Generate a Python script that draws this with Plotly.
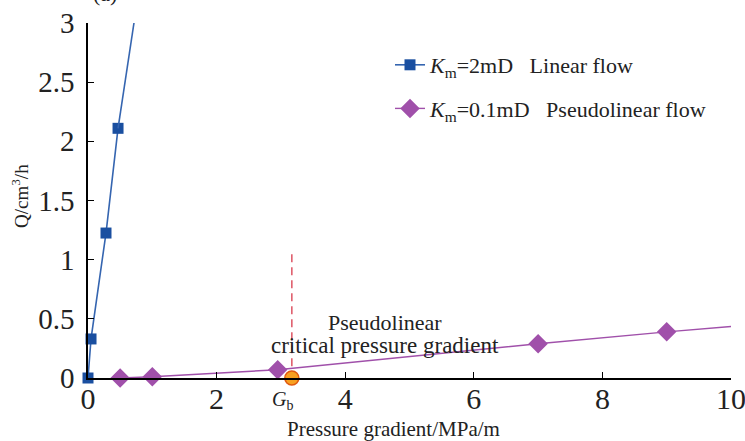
import plotly.graph_objects as go

# ---- data ----
linear_x = [0.0, 0.047, 0.28, 0.467]
linear_y = [0.0, 0.33, 1.225, 2.11]
linear_trend_x = [0.467, 0.715]
linear_trend_y = [2.11, 3.0]

pseudo_x = [0.5, 1.0, 2.95, 7.0, 9.0]
pseudo_y = [0.0, 0.01, 0.07, 0.29, 0.39]
pseudo_trend_x = [9.0, 10.0]
pseudo_trend_y = [0.39, 0.435]

gb_x = [3.17]
gb_y = [0.0]
gb_line_y = [0.1, 1.08]

x_ticks = [0, 2, 4, 6, 8, 10]
y_ticks = [0, 0.5, 1, 1.5, 2, 2.5, 3]

BLUE_LINE = "#3565b0"
BLUE_MARK = "#1a4fa0"
PURPLE = "#a050aa"
FONT = "Liberation Serif, Times New Roman, serif"
TXT = "#222"

W, H = 745, 441
L, R, T, B = 88, 14, 23, 63
PW, PH = W - L - R, H - T - B


def px2paper(px, py):
    return (px - L) / PW, (H - B - py) / PH


fig = go.Figure()

fig.add_trace(go.Scatter(
    x=linear_x, y=linear_y, mode="lines+markers",
    name="<i>K</i><sub>m</sub>=2mD   Linear flow",
    line=dict(color=BLUE_LINE, width=1.6),
    marker=dict(symbol="square", size=11, color=BLUE_MARK),
    cliponaxis=False, legendgroup="a",
))
fig.add_trace(go.Scatter(
    x=linear_trend_x, y=linear_trend_y, mode="lines",
    line=dict(color=BLUE_LINE, width=1.6), showlegend=False, cliponaxis=False,
))
fig.add_trace(go.Scatter(
    x=pseudo_x, y=pseudo_y, mode="lines+markers",
    name="<i>K</i><sub>m</sub>=0.1mD   Pseudolinear flow",
    line=dict(color=PURPLE, width=1.4),
    marker=dict(symbol="diamond", size=15, color=PURPLE),
    cliponaxis=False, legendgroup="b",
))
fig.add_trace(go.Scatter(
    x=pseudo_trend_x, y=pseudo_trend_y, mode="lines",
    line=dict(color=PURPLE, width=1.4), showlegend=False, cliponaxis=False,
))
fig.add_trace(go.Scatter(
    x=[gb_x[0], gb_x[0]], y=gb_line_y, mode="lines",
    line=dict(color="#e0606e", width=1.6, dash="8px,5px"), showlegend=False,
))
fig.add_trace(go.Scatter(
    x=gb_x, y=gb_y, mode="markers",
    marker=dict(symbol="circle", size=14, color="#f7a020",
                line=dict(color="#e05a10", width=1.5)),
    showlegend=False, cliponaxis=False,
))

axis_common = dict(
    showline=True, linecolor="black", linewidth=1.5,
    ticks="inside", ticklen=6, tickwidth=1.3, tickcolor="black",
    showgrid=False, zeroline=False, automargin=False,
    ticklabeloverflow="allow",
)
fig.update_xaxes(range=[0, 10], tickvals=x_ticks, ticklabelstandoff=-7,
                 tickfont=dict(family=FONT, size=30, color=TXT), **axis_common)
fig.update_yaxes(range=[0, 3], tickvals=y_ticks, ticklabelstandoff=6,
                 tickfont=dict(family=FONT, size=29, color=TXT), **axis_common)

xt = px2paper(393, 429)
yt = px2paper(20, 196)
pn1 = px2paper(385, 322)
pn2 = px2paper(385, 345)
gb = px2paper(0, 401)
ap = px2paper(105, 8)

ann = [
    dict(text="Pressure gradient/MPa/m", x=xt[0], y=xt[1],
         xref="paper", yref="paper", xanchor="center", yanchor="middle",
         showarrow=False, font=dict(family=FONT, size=21, color=TXT)),
    dict(text="Q/cm<sup>3</sup>/h", x=yt[0], y=yt[1],
         xref="paper", yref="paper", xanchor="center", yanchor="middle",
         textangle=-90, showarrow=False, font=dict(family=FONT, size=19, color=TXT)),
    dict(text="Pseudolinear", x=pn1[0], y=pn1[1],
         xref="paper", yref="paper", xanchor="center", yanchor="middle",
         showarrow=False, font=dict(family=FONT, size=22, color=TXT)),
    dict(text="critical pressure gradient", x=pn2[0], y=pn2[1],
         xref="paper", yref="paper", xanchor="center", yanchor="middle",
         showarrow=False, font=dict(family=FONT, size=23, color=TXT)),
    dict(text="<i>G</i><sub>b</sub>", x=3.03, y=gb[1],
         xref="x", yref="paper", xanchor="center", yanchor="middle",
         showarrow=False, font=dict(family=FONT, size=20, color=TXT)),
    dict(text="(a)", x=ap[0], y=ap[1],
         xref="paper", yref="paper", xanchor="center", yanchor="bottom",
         showarrow=False, font=dict(family=FONT, size=22, color=TXT)),
]

lg = px2paper(390, 44)
fig.update_layout(
    width=W, height=H,
    margin=dict(l=L, r=R, t=T, b=B, autoexpand=False),
    plot_bgcolor="white", paper_bgcolor="white",
    annotations=ann,
    legend=dict(
        x=lg[0], y=lg[1], xanchor="left", yanchor="top",
        font=dict(family=FONT, size=22, color=TXT),
        bgcolor="rgba(0,0,0,0)", tracegroupgap=12,
    ),
)

fig.write_html("out.html")
